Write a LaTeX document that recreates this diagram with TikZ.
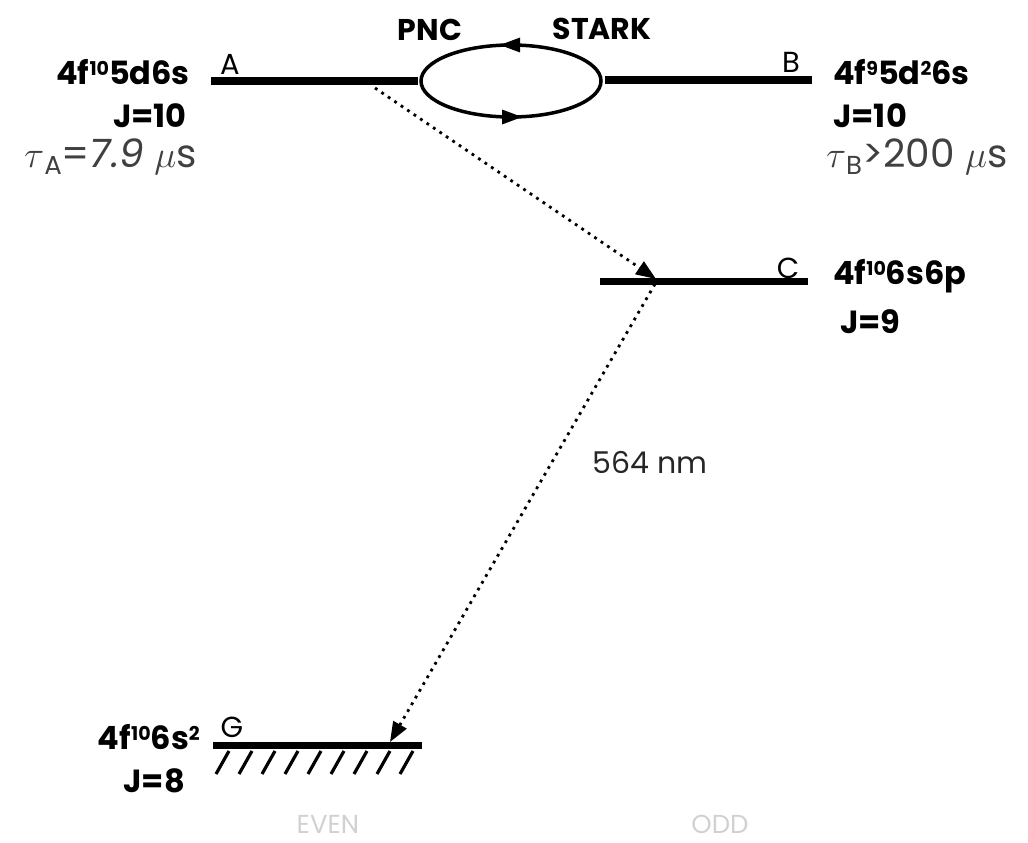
\documentclass[tikz,border=0pt]{standalone}
\usepackage{fontspec}
\usepackage{graphicx}
\setmainfont{Poppins}
\usetikzlibrary{arrows.meta,shapes.geometric}
\newcommand{\upp}[1]{\raisebox{9pt}{\fontsize{19}{19}\selectfont #1}}
\newcommand{\bigsym}[1]{\scalebox{1.5}{$#1$}}
\newcommand{\lowsub}[1]{\raisebox{-7pt}{\fontsize{26}{26}\selectfont #1}}
\begin{document}
\begin{tikzpicture}[x=1pt,y=-1pt,
  level/.style={line width=7pt},
  lbl/.style={font=\fontsize{32}{34}\selectfont\bfseries, inner sep=0pt},
  tag/.style={font=\fontsize{29}{30}\selectfont, inner sep=0pt},
  life/.style={font=\fontsize{39}{40}\selectfont, text=black!75, inner sep=0pt},
  nmtxt/.style={font=\fontsize{30}{30}\selectfont, text=black!85, inner sep=0pt},
  parity/.style={font=\fontsize{26}{26}\selectfont, text=black!18, inner sep=0pt},
  decay/.style={line width=2.8pt, dash pattern=on 2.8pt off 5pt, -{Triangle[length=20pt,width=15pt]}},
  loopline/.style={line width=3.5pt}]
\useasboundingbox (0,0) rectangle (1028,843);
% levels
\coordinate (A1) at (211,81); \coordinate (A2) at (418,81);
\coordinate (B1) at (605,80); \coordinate (B2) at (812,80);
\coordinate (C1) at (600,281); \coordinate (C2) at (808,281);
\coordinate (G1) at (213,745); \coordinate (G2) at (422,745);
\draw[level] (A1) -- (A2);
\draw[level] (B1) -- (B2);
\draw[level] (C1) -- (C2);
\draw[level] (G1) -- (G2);
% hatching
\foreach \i in {0,...,8} {
  \draw[line width=3.2pt] (229+\i*23,751) -- (216+\i*23,774);
}
% ellipse with arrows
\node[draw, ellipse, minimum width=180pt, minimum height=72pt, loopline, inner sep=0pt] (loopN) at (511,81) {};
\draw[line width=0pt, -{Triangle[length=20pt,width=15pt]}] (525,45) -- (500,45);
\draw[line width=0pt, -{Triangle[length=20pt,width=15pt]}] (497,117) -- (522,117);
% labels
\node[lbl, font=\fontsize{30}{32}\selectfont\bfseries] (pnc) at (430,30) {PNC};
\node[lbl, font=\fontsize{30}{32}\selectfont\bfseries] (stark) at (602,29) {STARK};
\node[tag] (la) at (230,64) {A};
\node[tag] (lb) at (791,62) {B};
\node[tag] (lc) at (788,268) {C};
\node[tag] (lg) at (232,727) {G};
% left text A
\node[lbl, anchor=east] (cA) at (190,72) {4f\upp{10}5d6s};
\node[lbl, anchor=east] (jA) at (187,116) {J=10};
\node[life, anchor=east] (tA) at (197,157) {\bigsym{\tau}\lowsub{A}=\textit{7.9} \bigsym{\mu}s};
% right text B
\node[lbl, anchor=west] (cB) at (833,72) {4f\upp{9}5d\upp{2}6s};
\node[lbl, anchor=west] (jB) at (833,116) {J=10};
\node[life, anchor=west] (tB) at (826,157) {\bigsym{\tau}\lowsub{B}>200 \bigsym{\mu}s};
% C text
\node[lbl, anchor=west] (cC) at (833,276) {4f\upp{10}6s6p};
\node[lbl, anchor=west] (jC) at (840,322) {J=9};
% G text
\node[lbl, anchor=east] (cG) at (200,737) {4f\upp{10}6s\upp{2}};
\node[lbl, anchor=east] (jG) at (185,781) {J=8};
% decays
\coordinate (dA) at (375,88);
\coordinate (dC) at (656,279);
\coordinate (dC2) at (655,284);
\coordinate (dG) at (390,742);
\draw[decay] (dA) -- (dC);
\draw[decay] (dC2) -- (dG);
\node[nmtxt] (nm) at (650,462) {564 nm};
\node[parity] (even) at (328,824) {EVEN};
\node[parity] (odd) at (720,824) {ODD};
\end{tikzpicture}
\end{document}
